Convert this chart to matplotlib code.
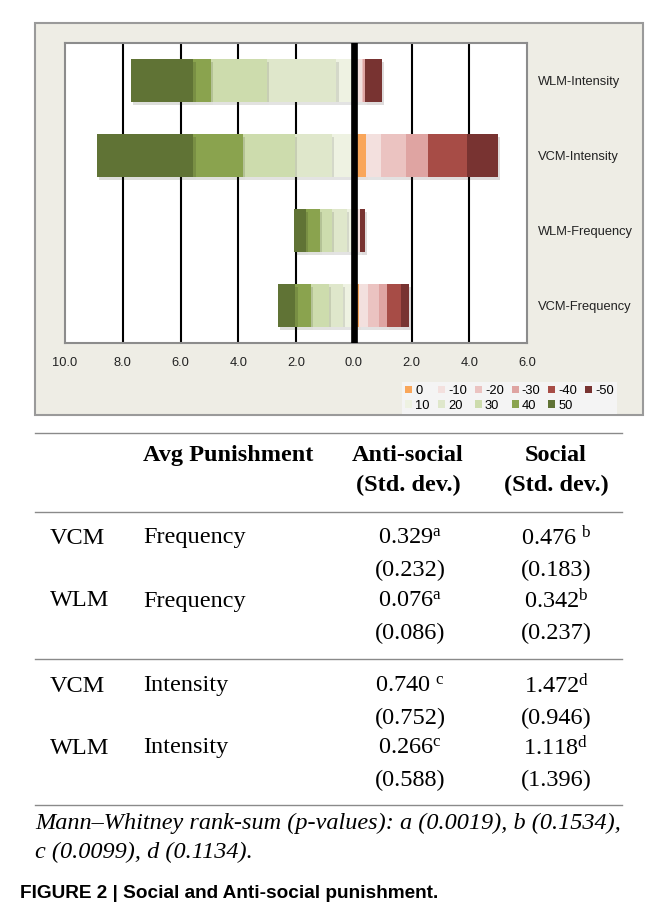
import matplotlib
matplotlib.use("Agg")
from matplotlib import pyplot as plt
from matplotlib.patches import Rectangle, Patch
from matplotlib.lines import Line2D
import matplotlib.patheffects as pe
import numpy as np

plt.rcParams['font.family'] = ['Liberation Sans', 'DejaVu Sans']
plt.rcParams['mathtext.fontset'] = 'custom'
plt.rcParams['mathtext.rm'] = 'Liberation Serif'
plt.rcParams['mathtext.it'] = 'Liberation Serif:italic'
plt.rcParams['mathtext.bf'] = 'Liberation Serif:bold'

# bars, top to bottom
categories = ['WLM-Intensity', 'VCM-Intensity', 'WLM-Frequency', 'VCM-Frequency']

# social punishment (drawn to the left), by level
social_levels = ['10', '20', '30', '40', '50']
social_10 = [0.60, 0.77, 0.25, 0.37]
social_20 = [2.40, 1.28, 0.52, 0.50]
social_30 = [1.93, 1.78, 0.39, 0.62]
social_40 = [0.62, 1.72, 0.51, 0.53]
social_50 = [2.16, 3.35, 0.41, 0.61]

# anti-social punishment (drawn to the right), by level
anti_levels = ['0', '-10', '-20', '-30', '-40', '-50']
anti_0 = [0.00, 0.42, 0.00, 0.17]
anti_10 = [0.27, 0.52, 0.20, 0.32]
anti_20 = [0.05, 0.87, 0.00, 0.37]
anti_30 = [0.06, 0.77, 0.00, 0.30]
anti_40 = [0.00, 1.33, 0.02, 0.49]
anti_50 = [0.60, 1.08, 0.17, 0.25]

social_colors = ['#eef2e2', '#dfe7cb', '#cddcad', '#8aa34e', '#607335']
anti_colors = ['#f9a65a', '#f3e0de', '#ebc3c1', '#dfa4a2', '#a74c46', '#783331']

xticks = [-10, -8, -6, -4, -2, 0, 2, 4, 6]

# table
table_header = ['Avg Punishment', 'Anti-social\n(Std. dev.)', 'Social\n(Std. dev.)']
table_group = ['VCM', 'WLM', 'VCM', 'WLM']
table_type = ['Frequency', 'Frequency', 'Intensity', 'Intensity']
anti_mean = ['0.329', '0.076', '0.740 ', '0.266']
anti_sup = ['a', 'a', 'c', 'c']
anti_sd = ['(0.232)', '(0.086)', '(0.752)', '(0.588)']
soc_mean = ['0.476 ', '0.342', '1.472', '1.118']
soc_sup = ['b', 'b', 'd', 'd']
soc_sd = ['(0.183)', '(0.237)', '(0.946)', '(1.396)']
note = ('Mann\u2013Whitney rank-sum (p-values): a (0.0019), b (0.1534),\n'
        'c (0.0099), d (0.1134).')
caption = 'FIGURE 2 | Social and Anti-social punishment.'

W, H = 654, 916
fig = plt.figure(figsize=(W / 100, H / 100), dpi=100)


def fx(px):
    return px / W


def fy(py):
    return 1 - py / H


# chart frame
fig.patches.append(Rectangle((fx(35), fy(415)), fx(643) - fx(35), fy(23) - fy(415),
                             transform=fig.transFigure, facecolor='#eeede5',
                             edgecolor='#9a9a9a', linewidth=1.5, zorder=-5))

ax = fig.add_axes([fx(65), fy(343), fx(527) - fx(65), fy(43) - fy(343)])
ax.set_zorder(2)
ax.set_facecolor('white')
y = np.arange(len(categories))
shadow = [pe.SimplePatchShadow(offset=(1.5, -2), alpha=0.15), pe.Normal()]

for x in xticks:
    if x not in (-10, 0, 6):
        ax.axvline(x, color='black', linewidth=1.5, zorder=1)

left = np.zeros(len(categories))
for vals, c in zip([social_10, social_20, social_30, social_40, social_50], social_colors):
    vals = np.array(vals)
    bars = ax.barh(y, -vals, left=-left, height=0.57, color=c, zorder=2)
    for b in bars:
        b.set_path_effects(shadow)
    left += vals

left = np.zeros(len(categories))
for vals, c in zip([anti_0, anti_10, anti_20, anti_30, anti_40, anti_50], anti_colors):
    vals = np.array(vals)
    bars = ax.barh(y, vals, left=left, height=0.57, color=c, zorder=2)
    for b in bars:
        b.set_path_effects(shadow)
    left += vals

ax.axvline(0, color='black', linewidth=4.8, zorder=5)

ax.set_xlim(-10, 6)
ax.set_ylim(3.5, -0.5)
ax.set_xticks(xticks)
ax.set_xticklabels(['%.1f' % abs(v) for v in xticks], fontsize=9.3, color='#222222')
ax.tick_params(axis='x', length=0, pad=10)
ax.yaxis.tick_right()
ax.set_yticks(y)
ax.set_yticklabels(categories, fontsize=9.3, color='#222222')
ax.tick_params(axis='y', length=0, pad=8)
for s in ax.spines.values():
    s.set_color('#8c8c8c')
    s.set_linewidth(1.5)

# legend, column-major order so the anti-social levels form the top row
handles = []
labels = []
for i in range(6):
    handles.append(Patch(facecolor=anti_colors[i], edgecolor='none'))
    labels.append(anti_levels[i])
    if i < 5:
        handles.append(Patch(facecolor=social_colors[i], edgecolor='none'))
        labels.append(social_levels[i])
leg = fig.legend(handles, labels, ncol=6, loc='upper left',
                 bbox_to_anchor=(fx(396), fy(376)), fontsize=9.3,
                 handlelength=0.55, handleheight=0.55, handletextpad=0.25,
                 columnspacing=0.6, labelspacing=0.2, borderpad=0.2,
                 frameon=True, fancybox=False, facecolor='#f4f4f4',
                 edgecolor='none', framealpha=1)

# table
serif = 'Liberation Serif'
for py in [433, 512, 659, 805]:
    fig.add_artist(Line2D([fx(35), fx(622)], [fy(py), fy(py)], color='#8a8a8a',
                          linewidth=1, transform=fig.transFigure))

fs = 17.5
fig.text(fx(143), fy(455), table_header[0], family=serif, weight='bold', fontsize=fs,
         va='center', ha='left')
fig.text(fx(408), fy(471), table_header[1], family=serif, weight='bold', fontsize=fs,
         va='center', ha='center', linespacing=1.55)
fig.text(fx(556), fy(471), table_header[2], family=serif, weight='bold', fontsize=fs,
         va='center', ha='center', linespacing=1.55)

row_y = [538, 601, 686, 748]
for i in range(4):
    yy = row_y[i]
    fig.text(fx(50), fy(yy), table_group[i], family=serif, fontsize=fs, va='center')
    fig.text(fx(143), fy(yy), table_type[i], family=serif, fontsize=fs, va='center')
    fig.text(fx(410), fy(yy), anti_mean[i] + r'$^{\mathrm{%s}}$' % anti_sup[i],
             family=serif, fontsize=fs, va='center', ha='center')
    fig.text(fx(556), fy(yy), soc_mean[i] + r'$^{\mathrm{%s}}$' % soc_sup[i],
             family=serif, fontsize=fs, va='center', ha='center')
    fig.text(fx(410), fy(yy + 32), anti_sd[i], family=serif, fontsize=fs,
             va='center', ha='center')
    fig.text(fx(556), fy(yy + 32), soc_sd[i], family=serif, fontsize=fs,
             va='center', ha='center')

fig.text(fx(35), fy(838), note, family=serif, style='italic', fontsize=fs,
         va='center', ha='left', linespacing=1.45)
fig.text(fx(20), fy(893), caption, weight='bold', fontsize=13.7, va='center', ha='left')

fig.savefig('out.png', dpi=100)
